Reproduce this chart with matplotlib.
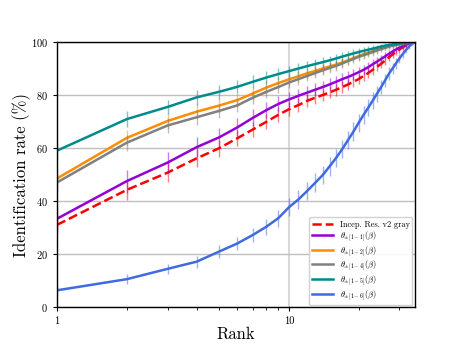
import matplotlib
matplotlib.use("Agg")
import matplotlib.pyplot as plt
from matplotlib.ticker import LogLocator, NullFormatter, FixedLocator, FixedFormatter

plt.rcParams["font.family"] = "serif"
plt.rcParams["font.serif"] = ["cmr10", "DejaVu Serif"]
plt.rcParams["mathtext.fontset"] = "cm"
plt.rcParams["axes.formatter.use_mathtext"] = True

ranks = list(range(1, 36))

# Identification rate (%) per rank
incep_gray = [31.0, 44.2, 50.7, 56.1, 59.9, 63.7, 67.0, 69.9, 72.5, 74.6,
              76.2, 77.8, 79.0, 80.0, 81.0, 82.0, 83.0, 84.0, 85.0, 86.0,
              87.2, 88.3, 89.5, 90.6, 91.8, 93.0, 94.2, 95.3, 96.3, 97.2,
              98.0, 98.7, 99.2, 99.6, 100.0]
theta_1 = [33.3, 47.5, 54.5, 60.3, 64.0, 67.8, 71.4, 74.3, 76.6, 78.3,
           79.7, 80.9, 82.0, 83.0, 84.0, 85.0, 86.0, 86.8, 87.7, 88.6,
           89.5, 90.5, 91.6, 92.6, 93.6, 94.6, 95.5, 96.4, 97.2, 97.9,
           98.5, 99.0, 99.4, 99.7, 100.0]
theta_2 = [48.5, 63.8, 70.2, 73.7, 76.0, 78.1, 80.6, 82.8, 84.5, 85.9,
           87.1, 88.2, 89.1, 90.0, 90.8, 91.5, 92.3, 93.1, 93.9, 94.7,
           95.4, 96.0, 96.6, 97.1, 97.6, 98.0, 98.4, 98.7, 99.0, 99.3,
           99.5, 99.7, 99.8, 99.9, 100.0]
theta_4 = [47.0, 62.0, 68.5, 71.6, 74.0, 76.1, 79.0, 81.2, 83.0, 84.7,
           86.0, 87.2, 88.3, 89.3, 90.2, 91.0, 91.9, 92.8, 93.6, 94.4,
           95.0, 95.6, 96.2, 96.8, 97.3, 97.8, 98.2, 98.6, 98.9, 99.2,
           99.4, 99.6, 99.8, 99.9, 100.0]
theta_5 = [59.0, 70.9, 75.5, 79.1, 81.2, 83.1, 85.0, 86.6, 87.9, 89.0,
           90.0, 90.9, 91.7, 92.4, 93.1, 93.8, 94.5, 95.1, 95.7, 96.2,
           96.7, 97.1, 97.5, 97.9, 98.3, 98.6, 98.9, 99.1, 99.3, 99.5,
           99.6, 99.7, 99.8, 99.9, 100.0]
theta_6 = [6.3, 10.5, 14.4, 17.1, 20.9, 24.0, 27.2, 30.3, 33.5, 37.6,
           40.6, 43.8, 46.9, 49.8, 53.1, 56.3, 59.6, 63.0, 66.2, 69.5,
           72.5, 75.2, 77.9, 80.5, 83.0, 85.5, 88.0, 90.0, 92.0, 93.8,
           95.5, 97.0, 98.3, 99.3, 100.0]

# error bar half-widths (%)
err_gray = [4.0, 3.8, 3.6, 3.4, 3.2, 3.1, 3.0, 2.9, 2.8, 2.7,
            2.6, 2.5, 2.4, 2.4, 2.3, 2.2, 2.2, 2.1, 2.0, 2.0,
            1.9, 1.9, 1.8, 1.7, 1.7, 1.6, 1.5, 1.4, 1.3, 1.2,
            1.0, 0.9, 0.7, 0.5, 0.0]
err_1 = [4.5, 4.3, 4.0, 3.8, 3.6, 3.4, 3.2, 3.0, 2.9, 2.8,
         2.7, 2.6, 2.5, 2.4, 2.3, 2.2, 2.2, 2.1, 2.0, 2.0,
         1.9, 1.8, 1.8, 1.7, 1.6, 1.5, 1.4, 1.3, 1.2, 1.1,
         1.0, 0.8, 0.6, 0.4, 0.0]
err_2 = [3.2, 3.0, 2.9, 2.8, 2.7, 2.6, 2.5, 2.4, 2.3, 2.2,
         2.1, 2.0, 2.0, 1.9, 1.8, 1.8, 1.7, 1.6, 1.6, 1.5,
         1.4, 1.4, 1.3, 1.2, 1.1, 1.0, 1.0, 0.9, 0.8, 0.7,
         0.6, 0.5, 0.4, 0.3, 0.0]
err_4 = [3.2, 3.0, 2.9, 2.8, 2.7, 2.6, 2.5, 2.4, 2.3, 2.2,
         2.1, 2.0, 2.0, 1.9, 1.8, 1.8, 1.7, 1.6, 1.6, 1.5,
         1.4, 1.4, 1.3, 1.2, 1.1, 1.0, 1.0, 0.9, 0.8, 0.7,
         0.6, 0.5, 0.4, 0.3, 0.0]
err_5 = [3.0, 3.0, 2.8, 2.7, 2.6, 2.5, 2.4, 2.3, 2.2, 2.1,
         2.0, 1.9, 1.9, 1.8, 1.7, 1.7, 1.6, 1.5, 1.5, 1.4,
         1.3, 1.3, 1.2, 1.1, 1.0, 1.0, 0.9, 0.8, 0.7, 0.6,
         0.5, 0.4, 0.3, 0.2, 0.0]
err_6 = [1.8, 2.0, 2.0, 2.2, 2.4, 2.6, 2.8, 3.0, 3.2, 3.4,
         3.5, 3.5, 3.5, 3.5, 3.5, 3.5, 3.5, 3.5, 3.5, 3.4,
         3.3, 3.2, 3.1, 3.0, 2.8, 2.6, 2.4, 2.2, 2.0, 1.8,
         1.5, 1.2, 0.9, 0.5, 0.0]

series = [
    (incep_gray, err_gray, "#ff0000", "--", "Incep. Res. v2 gray"),
    (theta_1, err_1, "#9400d3", "-", r"$\theta_{\pm[1-1]}(\beta)$"),
    (theta_2, err_2, "#ff8c00", "-", r"$\theta_{\pm[1-2]}(\beta)$"),
    (theta_4, err_4, "#808080", "-", r"$\theta_{\pm[1-4]}(\beta)$"),
    (theta_5, err_5, "#008b8b", "-", r"$\theta_{\pm[1-5]}(\beta)$"),
    (theta_6, err_6, "#4169e1", "-", r"$\theta_{\pm[1-6]}(\beta)$"),
]

fig = plt.figure(figsize=(4.61, 3.46), dpi=100)
ax = fig.add_axes([0.1236, 0.1127, 0.7766, 0.7659])

for vals, errs, color, ls, label in series:
    ax.errorbar(ranks, vals, yerr=errs, fmt="none", ecolor=color,
                elinewidth=1.0, alpha=0.5, capsize=0)
    ax.plot(ranks, vals, color=color, linestyle=ls, linewidth=1.8, label=label)

ax.set_xscale("log")
ax.set_xlim(1, 35)
ax.set_ylim(0, 100)
ax.xaxis.set_major_locator(FixedLocator([1, 10]))
ax.xaxis.set_major_formatter(FixedFormatter(["1", "10"]))
ax.xaxis.set_minor_locator(LogLocator(base=10, subs=range(2, 10)))
ax.xaxis.set_minor_formatter(NullFormatter())
ax.set_yticks([0, 20, 40, 60, 80, 100])

ax.grid(True, which="major", axis="y", color="#c0c0c0", linewidth=1.0)
ax.grid(True, which="major", axis="x", color="#d8d8d8", linewidth=1.5)
ax.set_axisbelow(True)

ax.tick_params(axis="both", which="major", labelsize=7.5, length=3, width=0.8)
ax.tick_params(axis="both", which="minor", length=2, width=0.6)
for sp in ax.spines.values():
    sp.set_color("black")
    sp.set_linewidth(1.0)

ax.set_xlabel("Rank", fontsize=12, labelpad=1)
ax.set_ylabel("Identification rate (%)", fontsize=12, labelpad=0)

ax.legend(loc="lower right", fontsize=6, handlelength=2.5,
          framealpha=0.9, borderpad=0.35, labelspacing=0.12,
          borderaxespad=0.3)

fig.savefig("out.png", dpi=100)
